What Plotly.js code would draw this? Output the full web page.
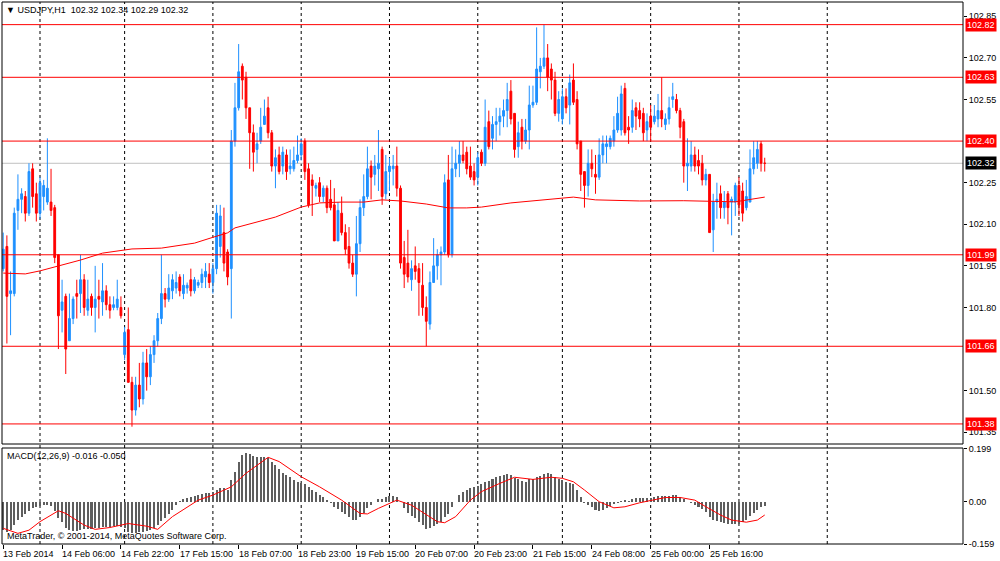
<!DOCTYPE html>
<html>
<head>
<meta charset="utf-8">
<script src="https://cdn.plot.ly/plotly-3.0.1.min.js"></script>
<style>html,body{margin:0;padding:0;background:#fff;}#chart{width:1000px;height:561px;}</style>
</head>
<body>
<div id="chart"></div>
<script>
// ---- data ----
const symbol = "USDJPY,H1";
const lastBar = [102.32, 102.34, 102.29, 102.32];
const openP = [101.94,102.02,101.85,101.85,102.15,102.19,102.20,102.14,102.30,102.21,
102.14,102.20,102.18,102.18,102.16,101.99,101.79,101.84,101.68,101.76,
101.85,101.85,101.90,101.79,101.84,101.80,101.84,101.82,101.86,101.81,
101.80,101.80,101.80,101.63,101.72,101.53,101.43,101.52,101.47,101.60,
101.55,101.63,101.68,101.76,101.85,101.83,101.86,101.87,101.91,101.85,
101.87,101.90,101.86,101.88,101.89,101.91,101.92,101.89,101.94,102.02,
102.07,102.00,101.94,102.40,102.52,102.67,102.63,102.52,102.43,102.37,
102.40,102.46,102.52,102.43,102.31,102.35,102.31,102.35,102.30,102.30,
102.33,102.35,102.40,102.30,102.26,102.23,102.25,102.20,102.23,102.19,
102.17,102.04,102.14,102.07,102.02,101.96,101.92,102.03,102.16,102.20,
102.31,102.28,102.30,102.37,102.21,102.29,102.30,102.31,102.23,101.98,
101.96,101.90,101.95,101.94,101.88,101.80,101.74,101.89,101.95,101.99,
102.00,102.26,101.99,102.30,102.32,102.35,102.36,102.31,102.29,102.27,
102.36,102.32,102.47,102.41,102.46,102.47,102.49,102.51,102.58,102.50,
102.38,102.45,102.40,102.44,102.53,102.54,102.65,102.67,102.70,102.66,
102.62,102.50,102.48,102.56,102.53,102.62,102.55,102.40,102.29,102.24,
102.32,102.28,102.27,102.35,102.38,102.38,102.40,102.44,102.44,102.59,
102.45,102.45,102.52,102.51,102.50,102.44,102.49,102.47,102.48,102.51,
102.46,102.48,102.55,102.55,102.51,102.47,102.31,102.31,102.35,102.33,
102.32,102.26,102.28,102.08,102.18,102.21,102.16,102.21,102.18,102.18,
102.24,102.22,102.16,102.18,102.30,102.32,102.39,102.32];
const highP = [102.07,102.06,101.93,102.16,102.28,102.23,102.22,102.32,102.32,102.25,
102.27,102.26,102.41,102.30,102.17,101.99,101.90,101.85,101.85,101.84,
101.90,101.99,101.92,101.90,101.85,101.95,101.90,101.96,101.88,101.84,
101.84,101.90,101.84,101.73,101.80,101.55,101.55,101.60,101.64,101.65,
101.66,101.70,101.78,101.99,101.87,101.92,101.92,101.93,101.92,101.92,
101.89,101.94,101.91,101.90,101.94,101.96,101.96,101.96,102.17,102.17,
102.16,102.01,102.44,102.61,102.75,102.68,102.65,102.52,102.46,102.43,
102.52,102.55,102.56,102.44,102.37,102.38,102.38,102.37,102.37,102.38,
102.42,102.41,102.41,102.32,102.28,102.25,102.27,102.24,102.24,102.26,
102.23,102.18,102.20,102.10,102.09,101.99,102.13,102.19,102.28,102.38,
102.33,102.35,102.44,102.38,102.35,102.34,102.35,102.38,102.24,102.04,
102.08,101.97,102.02,101.96,101.96,101.84,101.93,102.05,102.01,102.02,
102.28,102.35,102.38,102.37,102.40,102.40,102.38,102.38,102.32,102.36,
102.37,102.55,102.51,102.49,102.52,102.52,102.55,102.61,102.62,102.50,
102.47,102.48,102.48,102.60,102.60,102.81,102.70,102.82,102.75,102.68,
102.65,102.58,102.59,102.59,102.64,102.68,102.58,102.40,102.29,102.37,
102.37,102.35,102.41,102.42,102.42,102.42,102.49,102.56,102.60,102.61,
102.49,102.55,102.54,102.54,102.52,102.50,102.53,102.53,102.57,102.63,
102.50,102.56,102.61,102.57,102.52,102.48,102.41,102.40,102.38,102.37,
102.35,102.30,102.28,102.21,102.25,102.24,102.22,102.22,102.20,102.25,
102.27,102.25,102.26,102.37,102.40,102.40,102.40,102.34];
const lowP = [101.93,101.67,101.70,101.84,102.08,102.14,102.11,102.13,102.16,102.11,
102.12,102.15,102.17,102.13,101.96,101.65,101.71,101.56,101.68,101.74,
101.76,101.78,101.77,101.77,101.77,101.71,101.76,101.77,101.79,101.76,
101.79,101.79,101.76,101.61,101.53,101.37,101.41,101.44,101.45,101.50,
101.52,101.60,101.66,101.74,101.80,101.82,101.83,101.85,101.84,101.83,
101.85,101.84,101.85,101.87,101.87,101.87,101.87,101.85,101.92,101.98,
101.93,101.88,101.76,102.38,102.51,102.55,102.48,102.30,102.29,102.32,
102.39,102.46,102.41,102.29,102.23,102.28,102.28,102.26,102.28,102.29,
102.32,102.33,102.26,102.16,102.13,102.20,102.18,102.18,102.14,102.15,
102.04,102.04,102.06,101.99,101.94,101.91,101.84,102.00,102.13,102.19,
102.19,102.24,102.22,102.17,102.19,102.22,102.24,102.20,101.94,101.87,
101.89,101.86,101.90,101.77,101.77,101.66,101.72,101.89,101.90,101.88,
101.99,101.98,101.98,102.27,102.27,102.32,102.28,102.26,102.24,102.24,
102.31,102.31,102.37,102.37,102.40,102.42,102.45,102.45,102.46,102.34,
102.34,102.37,102.39,102.37,102.52,102.53,102.59,102.66,102.58,102.55,
102.49,102.47,102.46,102.50,102.46,102.53,102.37,102.22,102.16,102.20,
102.27,102.21,102.26,102.32,102.32,102.37,102.38,102.43,102.42,102.42,
102.39,102.43,102.44,102.45,102.40,102.40,102.40,102.46,102.45,102.45,
102.44,102.46,102.52,102.50,102.41,102.25,102.22,102.29,102.29,102.28,
102.24,102.24,102.07,102.00,102.12,102.12,102.12,102.10,102.06,102.13,
102.13,102.11,102.15,102.18,102.28,102.30,102.29,102.29];
const closeP = [102.01,101.84,101.86,102.14,102.19,102.21,102.14,102.29,102.20,102.14,
102.25,102.24,102.23,102.15,101.98,101.77,101.82,101.65,101.76,101.83,
101.84,101.90,101.80,101.83,101.80,101.83,101.83,101.86,101.81,101.79,
101.81,101.83,101.77,101.71,101.53,101.43,101.52,101.47,101.60,101.55,
101.63,101.68,101.76,101.85,101.83,101.87,101.90,101.89,101.86,101.88,
101.88,101.86,101.90,101.89,101.92,101.93,101.89,101.94,102.14,102.13,
101.96,101.91,102.40,102.52,102.65,102.62,102.52,102.43,102.36,102.39,
102.45,102.49,102.43,102.31,102.34,102.29,102.36,102.29,102.31,102.33,
102.35,102.39,102.29,102.17,102.24,102.24,102.20,102.23,102.16,102.16,
102.04,102.15,102.07,102.01,101.96,101.92,102.03,102.16,102.20,102.30,
102.27,102.31,102.32,102.20,102.29,102.31,102.31,102.23,101.96,101.92,
101.91,101.94,101.93,101.89,101.80,101.75,101.89,101.95,101.99,102.00,
102.25,101.99,102.30,102.32,102.35,102.33,102.30,102.27,102.26,102.34,
102.32,102.45,102.38,102.46,102.47,102.49,102.51,102.55,102.48,102.37,
102.43,102.40,102.44,102.53,102.54,102.66,102.67,102.70,102.63,102.62,
102.50,102.55,102.56,102.52,102.61,102.54,102.39,102.28,102.24,102.32,
102.30,102.27,102.35,102.39,102.39,102.41,102.44,102.50,102.57,102.43,
102.44,102.51,102.49,102.48,102.43,102.47,102.45,102.49,102.51,102.48,
102.48,102.52,102.56,102.51,102.45,102.31,102.32,102.35,102.31,102.31,
102.26,102.28,102.07,102.18,102.19,102.16,102.18,102.16,102.19,102.24,
102.17,102.14,102.20,102.30,102.34,102.37,102.32,102.32];

// moving average (read at selected bars)
const maBars   = [0,6,10,15,21,27,35,43,52,57,61,63,69,74,81,86,92,98,103,108,115,121,126,130,138,147,155,161,173,185,199,207];
const maValues = [101.924,101.921,101.932,101.950,101.971,101.996,102.011,102.014,102.032,102.053,102.069,102.087,102.108,102.126,102.162,102.177,102.180,102.180,102.188,102.184,102.173,102.159,102.159,102.162,102.177,102.188,102.198,102.188,102.184,102.185,102.181,102.198];

// MACD histogram (one per bar)
const macdValues = [-0.107,-0.113,-0.107,-0.088,-0.069,-0.056,-0.046,-0.034,-0.025,-0.019,
-0.015,-0.013,-0.013,-0.016,-0.034,-0.063,-0.075,-0.097,-0.107,-0.109,
-0.109,-0.107,-0.104,-0.104,-0.102,-0.100,-0.098,-0.094,-0.094,-0.094,
-0.092,-0.092,-0.094,-0.100,-0.113,-0.117,-0.117,-0.114,-0.114,-0.110,
-0.107,-0.100,-0.088,-0.073,-0.060,-0.046,-0.031,-0.013,0.003,0.009,
0.013,0.016,0.021,0.025,0.029,0.031,0.034,0.035,0.044,0.050,
0.050,0.044,0.082,0.113,0.151,0.176,0.182,0.180,0.172,0.167,
0.167,0.167,0.163,0.151,0.138,0.122,0.109,0.100,0.092,0.082,
0.075,0.072,0.067,0.056,0.044,0.038,0.025,0.016,0.006,-0.004,
-0.019,-0.029,-0.038,-0.046,-0.059,-0.069,-0.069,-0.059,-0.044,-0.025,
-0.013,0.000,0.009,0.009,0.016,0.021,0.021,0.019,0.000,-0.025,
-0.041,-0.054,-0.063,-0.075,-0.088,-0.104,-0.100,-0.092,-0.082,-0.075,
-0.056,-0.046,-0.019,0.000,0.025,0.038,0.044,0.050,0.054,0.059,
0.065,0.075,0.079,0.084,0.092,0.097,0.100,0.104,0.100,0.090,
0.084,0.079,0.075,0.084,0.084,0.092,0.097,0.103,0.107,0.103,
0.094,0.084,0.082,0.075,0.072,0.067,0.044,0.019,-0.004,-0.013,
-0.019,-0.031,-0.034,-0.031,-0.025,-0.016,-0.009,-0.004,0.004,0.006,
0.004,0.009,0.013,0.015,0.013,0.013,0.015,0.019,0.021,0.021,
0.021,0.021,0.025,0.025,0.019,0.009,0.000,-0.006,-0.013,-0.019,
-0.029,-0.038,-0.059,-0.067,-0.072,-0.075,-0.079,-0.082,-0.082,-0.082,
-0.082,-0.075,-0.069,-0.054,-0.041,-0.031,-0.019,-0.016];

// MACD signal line (read at selected bars)
const signalBars   = [0,4,7,10,15,17,22,25,29,34,39,42,46,53,57,62,66,72,75,81,86,92,97,99,102,107,111,115,118,120,123,127,130,135,139,144,149,152,155,158,162,166,169,173,177,180,184,188,191,195,198,202,205,207];
const signalValues = [-0.100,-0.119,-0.107,-0.075,-0.034,-0.044,-0.088,-0.104,-0.097,-0.082,-0.092,-0.104,-0.056,0.006,0.025,0.056,0.107,0.167,0.151,0.094,0.056,0.006,-0.044,-0.046,-0.025,0.006,-0.013,-0.050,-0.075,-0.079,-0.056,0.006,0.038,0.069,0.092,0.084,0.092,0.088,0.075,0.044,0.000,-0.023,-0.019,-0.004,0.009,0.016,0.016,0.006,-0.019,-0.050,-0.069,-0.077,-0.069,-0.050];

// time axis
const tickBars   = [0,16,32,48,64,80,96,112,128,144,160,176,192];
const tickLabels = ["13 Feb 2014","14 Feb 06:00","14 Feb 22:00","17 Feb 15:00","18 Feb 07:00","18 Feb 23:00","19 Feb 15:00","20 Feb 07:00","20 Feb 23:00","21 Feb 15:00","24 Feb 08:00","25 Feb 00:00","25 Feb 16:00"];
const separatorBars = [10,33,57,81,105,129,152,176,200,224];

// price axis and levels
const priceTicks  = [102.85,102.70,102.55,102.25,102.10,101.95,101.80,101.50,101.35];
const levelPrices = [102.82,102.63,102.40,101.99,101.66,101.38];
const bidPrice = 102.32;
const macdTicks = [0.199,0.00,-0.159];
const macdTickText = ["0.199","0.00","-0.159"];
const macdLegend = "MACD(12,26,9) -0.016 -0.050";

// ---- chart ----
const bars = openP.map((_, i) => i);
const FONT = "Liberation Sans, Arial, sans-serif";
const BLUE = "#1E90FF", RED = "#FF0000";

const traces = [
  {type:"candlestick", x:bars, open:openP, high:highP, low:lowP, close:closeP,
   xaxis:"x", yaxis:"y", whiskerwidth:0, hoverinfo:"skip",
   increasing:{line:{color:BLUE,width:1}, fillcolor:BLUE},
   decreasing:{line:{color:RED,width:1}, fillcolor:RED}},
  {type:"scatter", mode:"lines", x:maBars, y:maValues, xaxis:"x", yaxis:"y",
   line:{color:RED,width:1}, hoverinfo:"skip"},
  {type:"bar", x:bars, y:macdValues, xaxis:"x", yaxis:"y2", width:0.55,
   marker:{color:"#5e5e5e", line:{width:0}}, hoverinfo:"skip"},
  {type:"scatter", mode:"lines", x:signalBars, y:signalValues, xaxis:"x", yaxis:"y2",
   line:{color:RED,width:1}, hoverinfo:"skip"}
];

const mainDom = [0.1845, 1], macdDom = [0, 0.1771];
const shapes = [];
separatorBars.forEach(b => shapes.push({type:"line", xref:"x", yref:"paper", x0:b, x1:b, y0:0, y1:1,
  line:{color:"#000", width:1, dash:"3px,3px"}, layer:"below"}));
levelPrices.forEach(p => shapes.push({type:"line", xref:"paper", yref:"y", x0:0, x1:1, y0:p, y1:p,
  line:{color:RED, width:1}, layer:"above"}));
shapes.push({type:"line", xref:"paper", yref:"y", x0:0, x1:1, y0:bidPrice, y1:bidPrice,
  line:{color:"#c0c0c0", width:1}, layer:"below"});
shapes.push({type:"rect", xref:"paper", yref:"paper", x0:0, x1:1, y0:mainDom[0], y1:1,
  line:{color:"#000", width:1}, fillcolor:"rgba(0,0,0,0)"});
shapes.push({type:"rect", xref:"paper", yref:"paper", x0:0, x1:1, y0:0, y1:macdDom[1],
  line:{color:"#000", width:1}, fillcolor:"rgba(0,0,0,0)"});

const annotations = [];
levelPrices.forEach(p => annotations.push({xref:"paper", yref:"y", x:1, y:p, xanchor:"left", yanchor:"middle",
  xshift:2, text:p.toFixed(2), showarrow:false, bgcolor:RED, borderpad:1,
  font:{family:FONT, size:9, color:"#fff"}}));
annotations.push({xref:"paper", yref:"y", x:1, y:bidPrice, xanchor:"left", yanchor:"middle",
  xshift:2, text:bidPrice.toFixed(2), showarrow:false, bgcolor:"#000", borderpad:1,
  font:{family:FONT, size:9, color:"#fff"}});
annotations.push({xref:"paper", yref:"paper", x:0, y:1, xanchor:"left", yanchor:"top", xshift:2, yshift:-1,
  text:"▼ " + symbol + "  " + lastBar.map(v => v.toFixed(2)).join(" "), showarrow:false,
  font:{family:FONT, size:9, color:"#000"}});
annotations.push({xref:"paper", yref:"paper", x:0, y:macdDom[1], xanchor:"left", yanchor:"top", xshift:3, yshift:-1,
  text:macdLegend, showarrow:false, font:{family:FONT, size:9, color:"#000"}});
annotations.push({xref:"paper", yref:"paper", x:0, y:0, xanchor:"left", yanchor:"bottom", xshift:3, yshift:1,
  text:"MetaTrader, © 2001-2014, MetaQuotes Software Corp.", showarrow:false,
  font:{family:FONT, size:9, color:"#000"}});
// time labels, left-aligned at their tick like the terminal draws them
tickBars.forEach((b, k) => annotations.push({xref:"x", yref:"paper", x:b, y:0, xanchor:"left", yanchor:"top",
  xshift:-2, yshift:-3, text:tickLabels[k], showarrow:false, font:{family:FONT, size:9, color:"#000"}}));

const layout = {
  width:1000, height:561,
  margin:{l:2, r:37, t:2, b:17},
  paper_bgcolor:"#fff", plot_bgcolor:"#fff",
  showlegend:false, bargap:0,
  font:{family:FONT, size:9, color:"#000"},
  xaxis:{anchor:"y2", range:[-0.33, 260.9], showgrid:false, zeroline:false,
    tickmode:"array", tickvals:tickBars, showticklabels:false,
    ticks:"outside", ticklen:4, tickcolor:"#000",
    rangeslider:{visible:false}, showline:false, automargin:false, fixedrange:true},
  yaxis:{domain:mainDom, side:"right", range:[101.3076, 102.9016], showgrid:false, zeroline:false,
    tickmode:"array", tickvals:priceTicks, ticktext:priceTicks.map(v => v.toFixed(2)),
    ticks:"outside", ticklen:3, tickcolor:"#000", tickfont:{family:FONT, size:9, color:"#000"},
    showline:false, automargin:false, fixedrange:true},
  yaxis2:{domain:macdDom, side:"right", anchor:"x", range:[-0.159, 0.202], showgrid:false, zeroline:false,
    tickmode:"array", tickvals:macdTicks, ticktext:macdTickText,
    ticks:"outside", ticklen:3, tickcolor:"#000", tickfont:{family:FONT, size:9, color:"#000"},
    showline:false, automargin:false, fixedrange:true},
  shapes:shapes, annotations:annotations
};

Plotly.newPlot("chart", traces, layout, {displayModeBar:false, staticPlot:true});
</script>
</body>
</html>
